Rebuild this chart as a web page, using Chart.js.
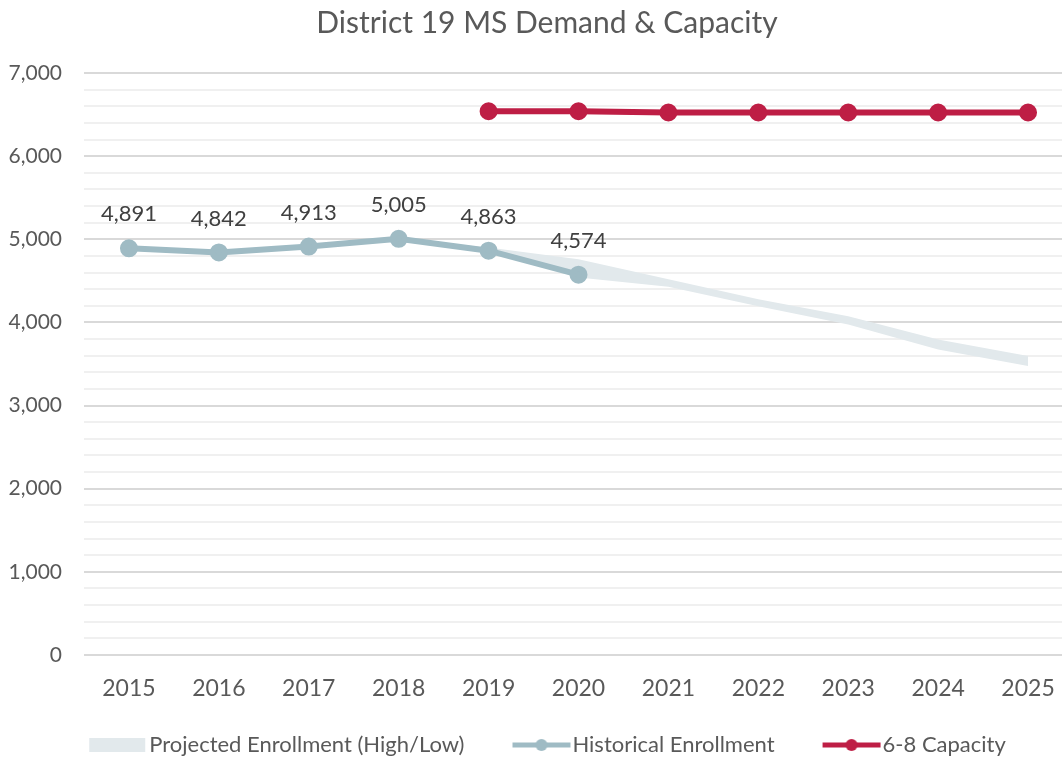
<!DOCTYPE html>
<html>
<head>
<meta charset="utf-8">
<script src="https://cdn.jsdelivr.net/npm/chart.js@4.4.0/dist/chart.umd.min.js"></script>
<style>
  html, body { margin: 0; padding: 0; background: #fff; overflow: hidden; }
  #wrap { position: relative; width: 1094px; height: 762px; }
</style>
</head>
<body>
<div id="wrap"><canvas id="chart" width="1094" height="762"></canvas></div>
<script>
// Data
const years = ['2015', '2016', '2017', '2018', '2019', '2020', '2021', '2022', '2023', '2024', '2025'];
const historical = [4891, 4842, 4913, 5005, 4863, 4574, null, null, null, null, null];
const projectedHigh = [null, null, null, 5005, 4900, 4760, 4520, 4280, 4075, 3795, 3595];
const projectedLow = [null, null, null, 5005, 4863, 4540, 4430, 4195, 3975, 3675, 3475];
const capacity = [null, null, null, null, 6540, 6540, 6525, 6525, 6525, 6525, 6525];
const yTicks = [0, 1000, 2000, 3000, 4000, 5000, 6000, 7000];

const FONT = 'Lato, "Open Sans", sans-serif';
const TEXT = '#595959';
const BAND = '#e2e9ec';
const HIST = '#9fbbc4';
const CAP = '#be1e45';

Chart.defaults.font.family = FONT;
Chart.defaults.color = TEXT;

// legend markers as small canvases (wider than the legend box so they sit close to the text)
function marker(kind, color) {
  const c = document.createElement('canvas');
  c.width = 72; c.height = 16;
  const g = c.getContext('2d');
  if (kind === 'box') {
    g.fillStyle = color;
    g.fillRect(12, 1, 56, 14);
  } else {
    g.strokeStyle = color;
    g.lineWidth = 5;
    g.beginPath(); g.moveTo(12, 8); g.lineTo(70, 8); g.stroke();
    g.fillStyle = color;
    g.beginPath(); g.arc(41, 8, 6, 0, Math.PI * 2); g.fill();
  }
  return c;
}
const markers = [marker('box', BAND), marker('line', HIST), marker('line', CAP)];

// value labels above the historical points
const pointLabels = {
  id: 'pointLabels',
  afterDatasetsDraw(chart) {
    const meta = chart.getDatasetMeta(2);
    const ctx = chart.ctx;
    ctx.save();
    ctx.font = '22px ' + FONT;
    ctx.fillStyle = '#404040';
    ctx.textAlign = 'center';
    ctx.textBaseline = 'middle';
    meta.data.forEach((pt, i) => {
      if (historical[i] == null) return;
      ctx.fillText(historical[i].toLocaleString('en-US'), pt.x, pt.y - 34);
    });
    ctx.restore();
  }
};

// legend padding also adds height; pull the legend up a bit after layout
const legendShift = {
  id: 'legendShift',
  afterLayout(chart) {
    chart.legend.top -= 18;
    chart.legend.bottom -= 18;
  }
};

new Chart(document.getElementById('chart'), {
  type: 'line',
  data: {
    labels: years,
    datasets: [
      { label: 'Projected Enrollment (High/Low)', data: projectedHigh, borderWidth: 0, pointRadius: 0,
        backgroundColor: BAND, borderColor: BAND, fill: '+1', order: 3 },
      { label: 'low', data: projectedLow, borderWidth: 0, pointRadius: 0,
        backgroundColor: BAND, borderColor: BAND, fill: false, order: 3 },
      { label: 'Historical Enrollment', data: historical, borderColor: HIST, backgroundColor: HIST,
        borderWidth: 6, pointRadius: 6, pointHoverRadius: 6, order: 1 },
      { label: '6-8 Capacity', data: capacity, borderColor: CAP, backgroundColor: CAP,
        borderWidth: 6, pointRadius: 6, pointHoverRadius: 6, order: 0 },
    ],
  },
  options: {
    responsive: false,
    animation: false,
    events: [],
    layout: { padding: { left: 0, right: 0, top: 0, bottom: -22 } },
    plugins: {
      title: {
        display: true,
        text: 'District 19 MS Demand & Capacity',
        font: { size: 30, weight: 'normal' },
        color: TEXT,
        padding: { top: 5, bottom: 32 },
      },
      legend: {
        position: 'bottom',
        labels: {
          usePointStyle: true,
          pointStyleWidth: 50,
          padding: 47,
          font: { size: 22 },
          color: TEXT,
          generateLabels: () => [0, 2, 3].map((ds, k) => ({
            text: ['Projected Enrollment (High/Low)', 'Historical Enrollment', '6-8 Capacity'][k],
            pointStyle: markers[k],
            fillStyle: 'transparent',
            strokeStyle: 'transparent',
            lineWidth: 0,
            datasetIndex: ds,
            fontColor: TEXT,
          })),
        },
      },
      tooltip: { enabled: false },
    },
    scales: {
      x: {
        offset: true,
        grid: { display: false },
        border: { display: false },
        ticks: { font: { size: 23 }, color: TEXT, padding: 12, maxRotation: 0 },
        afterFit: s => { s.height = 50; },
      },
      y: {
        min: 0,
        max: 7000,
        border: { display: false },
        afterBuildTicks: s => {
          const t = [];
          for (let v = 0; v <= 7000; v += 200) t.push({ value: v });
          s.ticks = t;
        },
        ticks: {
          font: { size: 21 },
          color: TEXT,
          padding: 22,
          autoSkip: false,
          callback: v => yTicks.includes(v) ? v.toLocaleString('en-US') : '',
        },
        grid: {
          drawTicks: false,
          lineWidth: 2,
          color: c => (c.tick && c.tick.value % 1000 === 0) ? '#d9d9d9' : '#f0f0f0',
        },
        afterFit: s => { s.width = 84; },
      },
      yPad: {
        position: 'right',
        grid: { display: false },
        border: { display: false },
        ticks: { display: false },
        afterFit: s => { s.width = 21; },
      },
    },
  },
  plugins: [pointLabels, legendShift],
});
</script>
</body>
</html>
